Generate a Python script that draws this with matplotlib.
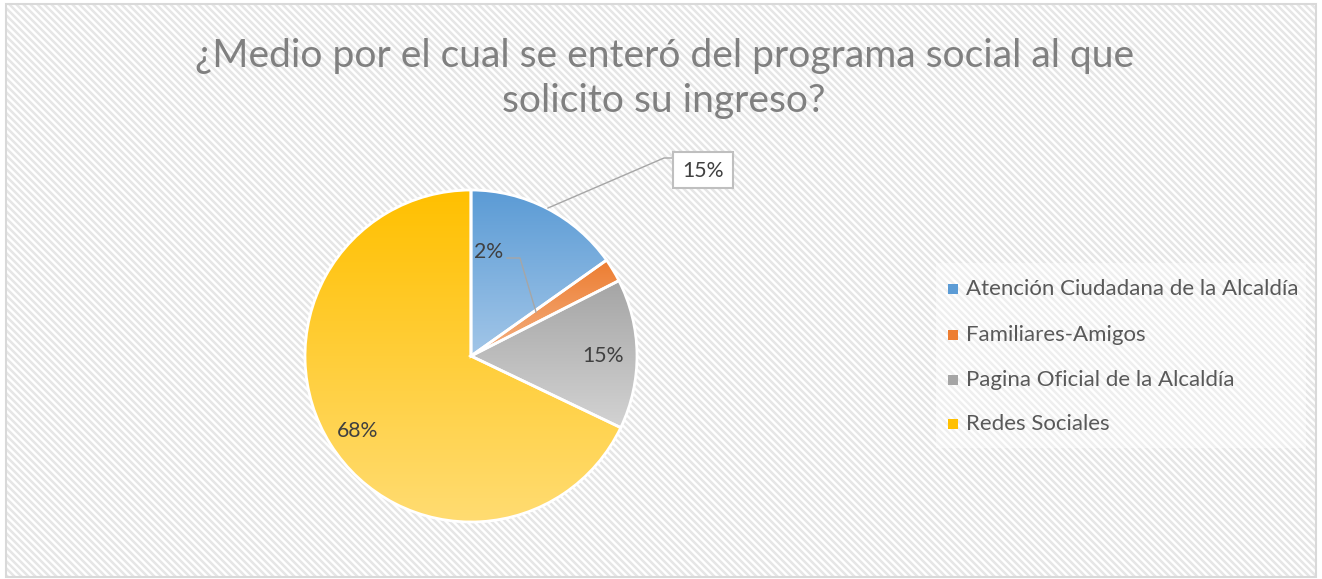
import numpy as np
import matplotlib
matplotlib.use("Agg")
import matplotlib.pyplot as plt
from matplotlib.patches import Rectangle
from matplotlib.collections import LineCollection
from matplotlib.colors import LinearSegmentedColormap

# ---- data ----
categories = ["Atención Ciudadana de la Alcaldía", "Familiares-Amigos",
              "Pagina Oficial de la Alcaldía", "Redes Sociales"]
values = [15.2, 2.3, 14.6, 67.9]
title = "¿Medio por el cual se enteró del programa social al que\nsolicito su ingreso?"
top_colors = ["#5B9BD5", "#ED7D31", "#A5A5A5", "#FFC000"]
bottom_colors = ["#A2C6E8", "#F4B183", "#D3D3D3", "#FFDC72"]

W, H = 1322, 579
FONT = "Lato"
def Y(y):
    return H - y

fig = plt.figure(figsize=(W / 100, H / 100), dpi=100)
ax = fig.add_axes([0, 0, 1, 1])
ax.set_axis_off()

# background hatch
segs = []
for x0 in np.arange(-H, W + 10, 7.0):
    segs.append([(x0, Y(4)), (x0 + (573), Y(577))])
lc = LineCollection(segs, colors="#E6E6E6", linewidths=1.8, zorder=0)
ax.add_collection(lc)
clip = Rectangle((6, Y(577)), 1310, 573, transform=ax.transData, facecolor="none")
lc.set_clip_path(clip)
ax.add_patch(Rectangle((6, Y(577)), 1310, 573, facecolor="none",
                       edgecolor="#D9D9D9", linewidth=1.5, zorder=1))

# pie
cx, cy, r = 471, Y(356), 166
wedges, _ = ax.pie(values, startangle=90, counterclock=False, center=(cx, cy),
                   radius=r, wedgeprops=dict(facecolor="none", edgecolor="white",
                                             linewidth=2.0), frame=True)
for w, tc, bc in zip(wedges, top_colors, bottom_colors):
    w.set_zorder(4)
    ext = w.get_path().get_extents()
    cmap = LinearSegmentedColormap.from_list("g", [bc, tc])
    grad = np.linspace(0, 1, 256).reshape(-1, 1)
    im = ax.imshow(grad, cmap=cmap, extent=[ext.x0, ext.x1, ext.y0, ext.y1],
                   origin="lower", aspect="auto", zorder=3, interpolation="bilinear")
    im.set_clip_path(w)

# labels
pct = [f"{round(v):d}%" for v in values]
lab_col = "#404040"
lead_col = "#A6A6A6"
fs_lab = 16
lab_texts = []
# Atención (outside box)
ax.plot([548, 664, 673], [Y(208), Y(158), Y(158)], color=lead_col, lw=1, zorder=5)
ax.add_patch(Rectangle((673, Y(188)), 60, 36, facecolor="white", edgecolor="#BFBFBF",
                       linewidth=1.5, zorder=6))
lab_texts.append(ax.text(703, Y(171), pct[0], ha="center", va="center", fontsize=fs_lab,
                         color=lab_col, family=FONT, zorder=7))
# Familiares
ax.plot([507, 520, 536], [Y(258), Y(258), Y(312)], color=lead_col, lw=1, zorder=5)
lab_texts.append(ax.text(489, Y(252), pct[1], ha="center", va="center", fontsize=fs_lab,
                         color=lab_col, family=FONT, zorder=7))
# Pagina
lab_texts.append(ax.text(603, Y(356), pct[2], ha="center", va="center", fontsize=fs_lab,
                         color=lab_col, family=FONT, zorder=7))
# Redes
lab_texts.append(ax.text(358, Y(431), pct[3], ha="center", va="center", fontsize=fs_lab,
                         color=lab_col, family=FONT, zorder=7))

# legend
ax.add_patch(Rectangle((936, Y(448)), 370, 185, facecolor="white", alpha=0.4,
                       edgecolor="none", zorder=2))
rows = [289, 335, 380, 424]
leg_texts = []
for cat, tc, bc, ry in zip(categories, top_colors, bottom_colors, rows):
    ax.add_patch(Rectangle((948, Y(ry + 5)), 10, 10, facecolor=tc, edgecolor="none", zorder=5))
    t = ax.text(966, Y(ry), cat, ha="left", va="center", fontsize=13, color="#595959",
                family=FONT, zorder=7)
    leg_texts.append(t)

# title
l1, l2 = title.split("\n")
t1 = ax.text(665, Y(67), l1, ha="center", va="baseline", fontsize=26, color="#808080",
             family=FONT, zorder=7)
t2 = ax.text(664, Y(112), l2, ha="center", va="baseline", fontsize=26, color="#808080",
             family=FONT, zorder=7)

ax.set_xlim(0, W)
ax.set_ylim(0, H)
ax.set_aspect("auto")

# fit font sizes to measured widths
fig.canvas.draw()
rend = fig.canvas.get_renderer()
def fit(t, target):
    wpx = t.get_window_extent(rend).width
    t.set_fontsize(t.get_fontsize() * target / wpx)
fit(t1, 936)
t2.set_fontsize(t1.get_fontsize())
fit(leg_texts[0], 330)
for t in leg_texts[1:]:
    t.set_fontsize(leg_texts[0].get_fontsize())
fit(lab_texts[3], 42)
for t in lab_texts[:3]:
    t.set_fontsize(lab_texts[3].get_fontsize())

fig.savefig("out.png", dpi=100, facecolor="white")
